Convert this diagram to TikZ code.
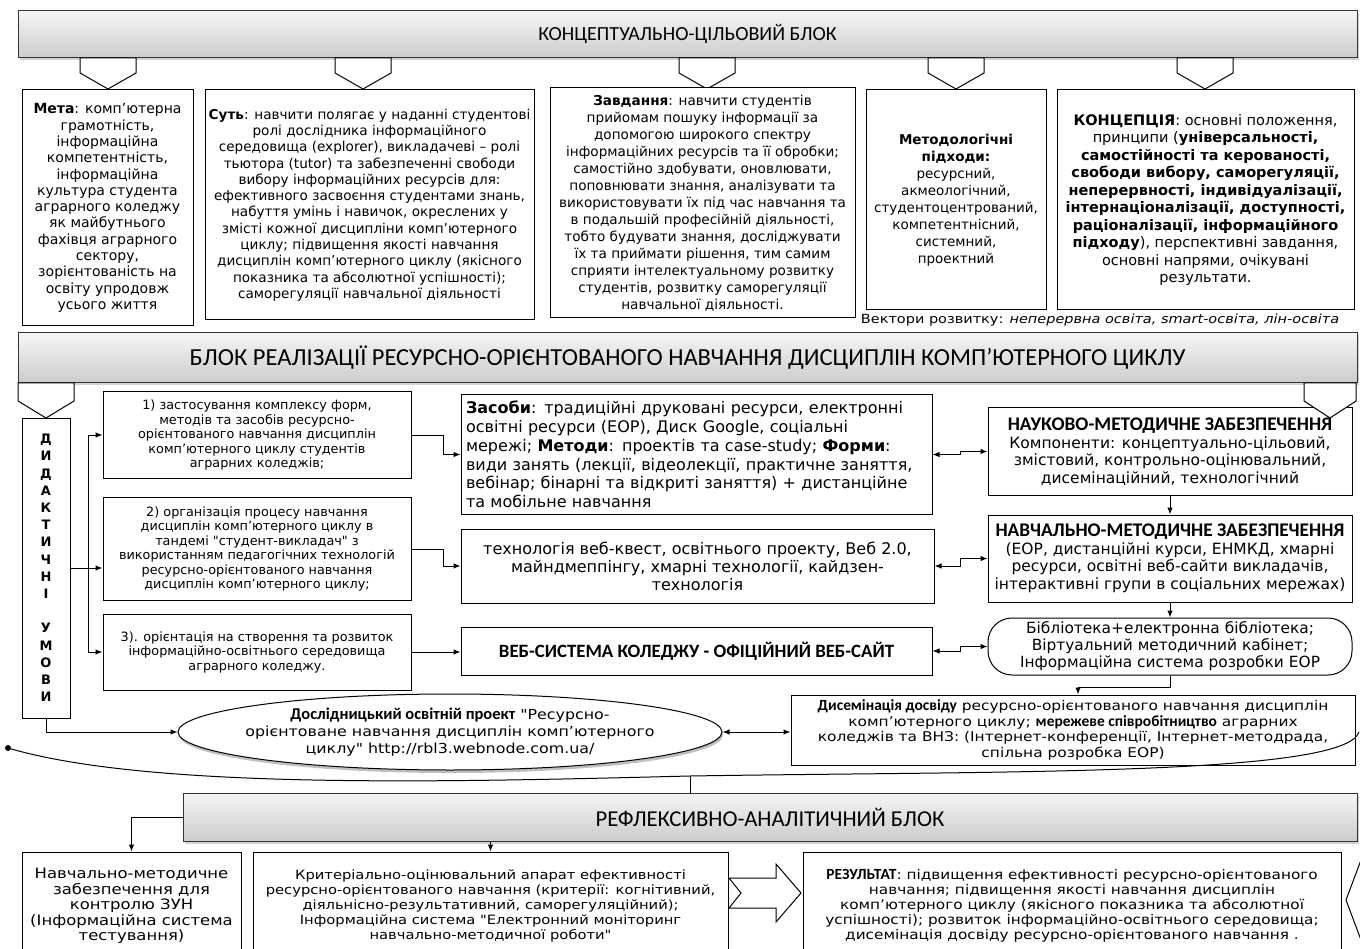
\documentclass[tikz,border=0pt]{standalone}
\usepackage{fontspec}
\setmainfont{DejaVu Sans}[Ligatures=TeXOff]
\newfontfamily\hdfont{Carlito}[Ligatures=TeXOff]
\newfontfamily\widefont{DejaVu Sans}[Ligatures=TeXOff,FakeStretch=1.15]
\usetikzlibrary{arrows.meta,positioning,shapes.geometric,shadows}
\newcommand{\setfs}[2]{\fontsize{#1}{#2}\selectfont}
\newcommand{\hb}[2]{{\hdfont\bfseries\fontsize{#1}{#1}\selectfont #2}}

\begin{document}
\begin{tikzpicture}[x=1pt,y=-1pt,line width=1pt]
\tikzstyle{bar} = [rectangle, draw=black!80, top color=gray!8, bottom color=gray!40, drop shadow={opacity=0.35,shadow xshift=2pt,shadow yshift=-2.5pt}, font=\hdfont]
\tikzstyle{block} = [rectangle, draw, fill=white, align=center, inner sep=2pt]
\tikzstyle{arrow} = [-{Latex[length=7pt,width=5.5pt]}]
\tikzstyle{biarrow} = [{Latex[length=7pt,width=5.5pt]}-{Latex[length=7pt,width=5.5pt]}]
\tikzstyle{pent} = [draw, fill=white]
\useasboundingbox (0,0) rectangle (1360,949);

% conceptual block
\node[bar, minimum width=1339pt, minimum height=47pt] (bar1) at (687.5,34.5) {\setfs{20}{22}КОНЦЕПТУАЛЬНО-ЦІЛЬОВИЙ БЛОК};
\foreach \px in {108,363,707,956,1205}
  \draw[pent] (\px-28,58) -- (\px+28,58) -- (\px+28,73) -- (\px,89) -- (\px-28,73) -- cycle;

\node[block, minimum width=171pt, minimum height=236pt, font=\setfs{14}{16.3}] (meta) at (107.5,208) {\textbf{Мета}: комп’ютерна\\грамотність,\\інформаційна\\компетентність,\\інформаційна\\культура студента\\аграрного коледжу\\як майбутнього\\фахівця аграрного\\сектору,\\зорієнтованість на\\освіту упродовж\\усього життя};
\node[block, minimum width=329pt, minimum height=230pt, font=\setfs{13.6}{16.3}] (sut) at (369.5,205) {\textbf{Суть}: навчити полягає у наданні студентові\\ролі дослідника інформаційного\\середовища (explorer), викладачеві – ролі\\тьютора (tutor) та забезпеченні свободи\\вибору інформаційних ресурсів для:\\ефективного засвоєння студентами знань,\\набуття умінь і навичок, окреслених у\\змісті кожної дисципліни комп’ютерного\\циклу; підвищення якості навчання\\дисциплін комп’ютерного циклу (якісного\\показника та абсолютної успішності);\\саморегуляції навчальної діяльності};
\node[block, minimum width=305pt, minimum height=230pt, font=\setfs{13.6}{17}] (zavd) at (702.5,203) {\textbf{Завдання}: навчити студентів\\прийомам пошуку інформації за\\допомогою широкого спектру\\інформаційних ресурсів та її обробки;\\самостійно здобувати, оновлювати,\\поповнювати знання, аналізувати та\\використовувати їх під час навчання та\\в подальшій професійній діяльності,\\тобто будувати знання, досліджувати\\їх та приймати рішення, тим самим\\сприяти інтелектуальному розвитку\\студентів, розвитку саморегуляції\\навчальної діяльності.};
\node[block, minimum width=180pt, minimum height=220pt, font=\setfs{13.5}{17}] (metod) at (956,200) {\textbf{Методологічні}\\\textbf{підходи:}\\ресурсний,\\акмеологічний,\\студентоцентрований,\\компетентнісний,\\системний,\\проектний};
\node[block, minimum width=297pt, minimum height=220pt, font=\setfs{14.5}{17.5}] (konc) at (1205.5,200) {\textbf{КОНЦЕПЦІЯ}: основні положення,\\принципи (\textbf{універсальності,}\\\textbf{самостійності та керованості,}\\\textbf{свободи вибору, саморегуляції,}\\\textbf{неперервності, індивідуалізації,}\\\textbf{інтернаціоналізації, доступності,}\\\textbf{раціоналізації, інформаційного}\\\textbf{підходу}), перспективні завдання,\\основні напрями, очікувані\\результати.};
\node[font=\widefont\setfs{12.6}{15}, inner sep=0pt] (vect) at (1100,320) {Вектори розвитку: \textit{неперервна освіта, smart-освіта, лін-освіта}};

% realisation block
\node[bar, minimum width=1339pt, minimum height=50pt] (bar2) at (687.5,358) {\setfs{24.5}{26}БЛОК РЕАЛІЗАЦІЇ РЕСУРСНО-ОРІЄНТОВАНОГО НАВЧАННЯ ДИСЦИПЛІН КОМП’ЮТЕРНОГО ЦИКЛУ};
\node[block, minimum width=48pt, minimum height=300pt, font=\bfseries\setfs{13}{17.2}] (umovy) at (46,568) {Д\\И\\Д\\А\\К\\Т\\И\\Ч\\Н\\І\\[17.2pt]У\\М\\О\\В\\И};
\draw[pent] (18,383) -- (74,383) -- (74,401) -- (46,418) -- (18,401) -- cycle;

\node[block, minimum width=308pt, minimum height=86pt, font=\setfs{12.8}{14.5}] (b1) at (257,435) {1) застосування комплексу форм,\\методів та засобів ресурсно-\\орієнтованого навчання дисциплін\\комп’ютерного циклу студентів\\аграрних коледжів;};
\node[block, minimum width=308pt, minimum height=103pt, font=\setfs{12.8}{14.5}] (b2) at (257,549) {2) організація процесу навчання\\дисциплін комп’ютерного циклу в\\тандемі "студент-викладач" з\\використанням педагогічних технологій\\ресурсно-орієнтованого навчання\\дисциплін комп’ютерного циклу;};
\node[block, minimum width=308pt, minimum height=76pt, font=\setfs{12.8}{14.5}] (b3) at (257,652) {3). орієнтація на створення та розвиток\\інформаційно-освітнього середовища\\аграрного коледжу.};

\node[block, align=left, text width=461pt, minimum height=119pt, inner sep=5pt, font=\setfs{16}{18.8}] (zas) at (696.5,454.5) {\textbf{Засоби}: традиційні друковані ресурси, електронні\\освітні ресурси (ЕОР), Диск Google, соціальні\\мережі; \textbf{Методи}: проектів та case-study; \textbf{Форми}:\\види занять (лекції, відеолекції, практичне заняття,\\вебінар; бінарні та відкриті заняття) + дистанційне\\та мобільне навчання};
\node[block, minimum width=473pt, minimum height=74pt, font=\setfs{16}{18}] (tech) at (697.5,566) {технологія веб-квест, освітнього проекту, Веб 2.0,\\майндмеппінгу, хмарні технології, кайдзен-\\технологія};
\node[block, minimum width=471pt, minimum height=48pt, font=\hdfont\bfseries\setfs{18.8}{20}] (web) at (696.5,651) {ВЕБ-СИСТЕМА КОЛЕДЖУ - ОФІЦІЙНИЙ ВЕБ-САЙТ};

\node[block, minimum width=364pt, minimum height=87pt, font=\setfs{15.5}{17.5}] (nauk) at (1170,451.5) {\hb{19.3}{НАУКОВО-МЕТОДИЧНЕ ЗАБЕЗПЕЧЕННЯ}\\Компоненти: концептуально-цільовий,\\змістовий, контрольно-оцінювальний,\\дисемінаційний, технологічний};
\node[block, minimum width=364pt, minimum height=87pt, font=\setfs{15.5}{17.5}] (navch) at (1170,558.5) {\hb{19.3}{НАВЧАЛЬНО-МЕТОДИЧНЕ ЗАБЕЗПЕЧЕННЯ}\\(ЕОР, дистанційні курси, ЕНМКД, хмарні\\ресурси, освітні веб-сайти викладачів,\\інтерактивні групи в соціальних мережах)};
\node[block, rounded corners=24pt, minimum width=364pt, minimum height=57pt, font=\setfs{15.4}{17}] (lib) at (1170,646.5) {Бібліотека+електронна бібліотека;\\Віртуальний методичний кабінет;\\Інформаційна система розробки ЕОР};
\draw[pent] (1304,383) -- (1356,383) -- (1356,401) -- (1330,418) -- (1304,401) -- cycle;

\node[ellipse, draw, fill=white, drop shadow={opacity=0.5,shadow xshift=1pt,shadow yshift=-3pt}, minimum width=544pt, minimum height=76pt, inner xsep=-45pt, inner ysep=-8pt, align=center, font=\widefont\setfs{13.8}{17}] (proj) at (450,732) {\hb{16.5}{Дослідницький освітній проект} "Ресурсно-\\орієнтоване навчання дисциплін комп’ютерного\\циклу" http://rbl3.webnode.com.ua/};
\node[block, minimum width=564pt, minimum height=70pt, font=\widefont\setfs{13.4}{15.5}] (dis) at (1073,730) {\hb{15.5}{Дисемінація досвіду} ресурсно-орієнтованого навчання дисциплін\\комп’ютерного циклу; \hb{15.5}{мережеве співробітництво} аграрних\\коледжів та ВНЗ: (Інтернет-конференції, Інтернет-методрада,\\спільна розробка ЕОР)};

% arrows of the realisation block
\coordinate (br) at (88,568);
\draw (umovy.east) -- (br);
\draw[arrow] (br) |- (b1.west);
\draw[arrow] (br) -- (br -| b2.west);
\draw[arrow] (br) |- (b3.west);
\draw[arrow] (b1.east) -- ++(32,0) |- (zas.west);
\draw[arrow] (b2.east) -- ++(32,0) |- (tech.west);
\draw[arrow] (b3.east) -- (b3.east -| web.west);
\draw[biarrow] (zas.east) -- ++(28,0) |- (nauk.west);
\draw[biarrow] (tech.east) -- ++(26,0) |- (navch.west);
\draw[biarrow] (web.east) -- ++(28,0) |- (lib.west);
\draw[arrow] (nauk.south) -- (navch.north);
\draw[arrow] (navch.south) -- (lib.north);
\draw[arrow] (lib.south) -- ++(0,12) -| ([xshift=5pt]dis.north);
\draw[arrow] (umovy.south) |- (proj.west);
\draw[biarrow] (proj.east) -- (proj.east -| dis.west);

% loop round the project
\coordinate (lp) at (690,776);
\fill (8,748) circle (3pt);
\draw (8,748) .. controls (150,790) and (450,782) .. (lp) .. controls (1000,771) and (1345,776) .. (1359,732);

% reflexive block
\node[bar, minimum width=1174pt, minimum height=48pt] (bar3) at (770,817) {\setfs{22.7}{24}РЕФЛЕКСИВНО-АНАЛІТИЧНИЙ БЛОК};
\draw (lp) -- (lp |- bar3.north);

\node[block, minimum width=219pt, minimum height=108pt, font=\widefont\setfs{14.3}{15.5}] (zun) at (131.5,906) {Навчально-методичне\\забезпечення для\\контролю ЗУН\\(Інформаційна система\\тестування)};
\node[block, minimum width=475pt, minimum height=108pt, font=\widefont\setfs{12.8}{15}] (krit) at (490.5,906) {Критеріально-оцінювальний апарат ефективності\\ресурсно-орієнтованого навчання (критерії: когнітивний,\\діяльнісно-результативний, саморегуляційний);\\Інформаційна система "Електронний моніторинг\\навчально-методичної роботи"};
\node[block, minimum width=538pt, minimum height=108pt, font=\widefont\setfs{13.3}{15}] (res) at (1072,906) {\hb{15.5}{РЕЗУЛЬТАТ}: підвищення ефективності ресурсно-орієнтованого\\навчання; підвищення якості навчання дисциплін\\комп’ютерного циклу (якісного показника та абсолютної\\успішності); розвиток інформаційно-освітнього середовища;\\дисемінація досвіду ресурсно-орієнтованого навчання .};
\draw[arrow] (bar3.west) -| (zun.north);
\draw[arrow] (bar3.south -| krit.north) -- (krit.north);
\draw[pent] (729,878) -- (776,878) -- (776,864) -- (801,893) -- (776,922) -- (776,908) -- (729,908) -- (741,893) -- cycle;
\draw (1361,860) -- (1346,900) -- (1361,940);
\end{tikzpicture}
\end{document}
